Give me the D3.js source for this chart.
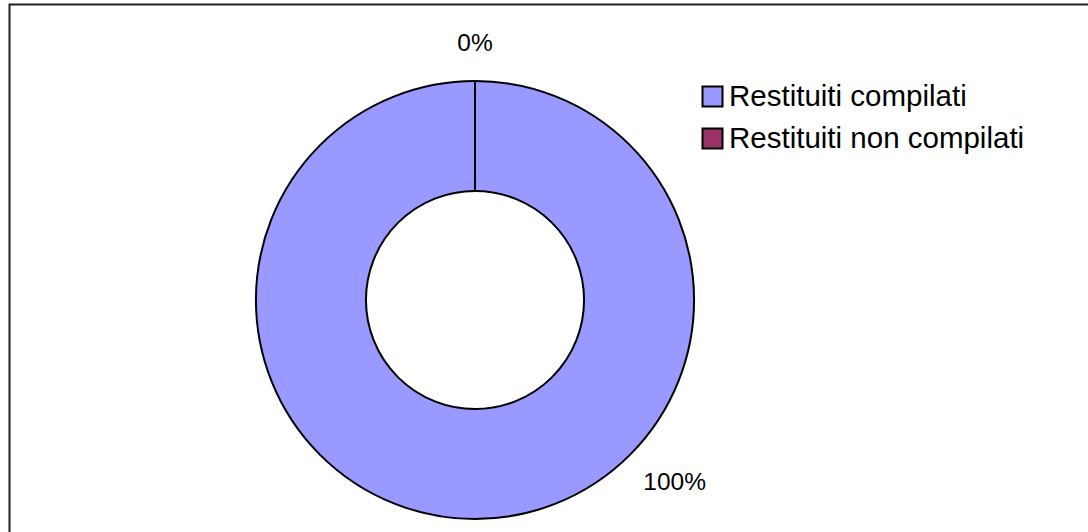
<!DOCTYPE html>
<html>
<head>
<meta charset="utf-8">
<script src="https://cdn.jsdelivr.net/npm/d3@7"></script>
<style>
  html, body { margin: 0; padding: 0; background: #fff; }
  svg { display: block; }
  text { font-family: Arial, "Liberation Sans", sans-serif; fill: #000; }
</style>
</head>
<body>
<svg id="chart" width="1088" height="532"></svg>
<script>
const categories = ["Restituiti compilati", "Restituiti non compilati"];
const values = [100, 0];
const colors = ["#9999FF", "#993366"];

const svg = d3.select("#chart");
const W = 1088, H = 532;

// chart frame (extends beyond canvas bottom/right)
svg.append("rect")
  .attr("x", 9.5).attr("y", 4.5)
  .attr("width", 1200).attr("height", 700)
  .attr("fill", "#fff")
  .attr("stroke", "#222").attr("stroke-width", 2);

const cx = 475, cy = 300, rOuter = 219, rInner = 109;
const total = d3.sum(values);

const pie = d3.pie().sort(null).value(d => d.value);
const data = pie(categories.map((c, i) => ({ name: c, value: values[i], color: colors[i] })));

const arc = d3.arc().innerRadius(rInner).outerRadius(rOuter);
const g = svg.append("g").attr("transform", `translate(${cx},${cy})`);

g.selectAll("path.slice")
  .data(data)
  .join("path")
  .attr("class", "slice")
  .attr("d", arc)
  .attr("fill", d => d.data.color)
  .attr("stroke", "#000")
  .attr("stroke-width", 2)
  .attr("stroke-linejoin", "round");

// radial separator line at slice boundaries (zero-size slice)
data.filter(d => d.endAngle - d.startAngle < 1e-6).forEach(d => {
  const a = d.startAngle;
  g.append("line")
    .attr("x1", rInner * Math.sin(a)).attr("y1", -rInner * Math.cos(a))
    .attr("x2", rOuter * Math.sin(a)).attr("y2", -rOuter * Math.cos(a))
    .attr("stroke", "#000").attr("stroke-width", 2);
});

// data labels
const fmt = v => Math.round(v / total * 100) + "%";
const labelAngle = d => (d.endAngle - d.startAngle) > Math.PI ? 0.735 * Math.PI : d.startAngle;
const labelRadius = d => (d.endAngle - d.startAngle) > Math.PI ? 270 : 258;
g.selectAll("text.lbl")
  .data(data)
  .join("text")
  .attr("class", "lbl")
  .attr("x", d => labelRadius(d) * Math.sin(labelAngle(d)))
  .attr("y", d => -labelRadius(d) * Math.cos(labelAngle(d)))
  .attr("dy", "0.35em")
  .attr("text-anchor", "middle")
  .attr("font-size", 24.5)
  .text(d => fmt(d.data.value));

// legend
const lg = svg.append("g").attr("transform", "translate(702,86)");
const row = lg.selectAll("g").data(categories).join("g")
  .attr("transform", (d, i) => `translate(0,${i * 42})`);
row.append("rect")
  .attr("x", 0.5).attr("y", 0.5).attr("width", 20).attr("height", 20)
  .attr("fill", (d, i) => colors[i])
  .attr("stroke", "#000").attr("stroke-width", 2);
row.append("text")
  .attr("x", 27).attr("y", 20)
  .attr("font-size", 29.5)
  .text(d => d);
</script>
</body>
</html>
